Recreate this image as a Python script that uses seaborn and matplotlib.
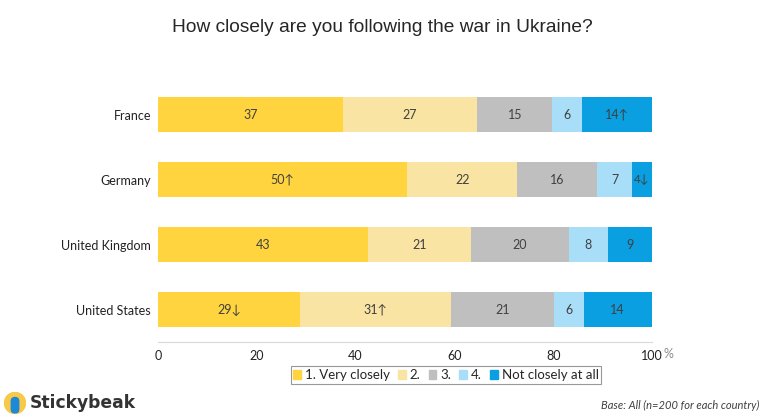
import numpy as np
import pandas as pd
import matplotlib
matplotlib.use("Agg")
import matplotlib.pyplot as plt
import matplotlib.patches as mpatches
import seaborn as sns

# values (rounded % shown in each segment)
countries = ["France", "Germany", "United Kingdom", "United States"]
very_closely = [37, 50, 43, 29]
level_2 = [27, 22, 21, 31]
level_3 = [15, 16, 20, 21]
level_4 = [6, 7, 8, 6]
not_closely = [14, 4, 9, 14]
# significance arrows next to some labels
arrows = [
    ["", "", "", "", "↑"],
    ["↑", "", "", "", "↓"],
    ["", "", "", "", ""],
    ["↓", "↑", "", "", ""],
]
series_names = ["1. Very closely", "2.", "3.", "4.", "Not closely at all"]
colors = ["#FFD43F", "#F9E4A3", "#BFBFBF", "#A8DEF8", "#0A9FE0"]
ticks = [0, 20, 40, 60, 80, 100]

FONT = ["Lato", "DejaVu Sans"]

sns.set_style("white")
plt.rcParams["font.family"] = FONT

df = pd.DataFrame({"country": countries, "s0": very_closely, "s1": level_2,
                   "s2": level_3, "s3": level_4, "s4": not_closely})
cols = ["s0", "s1", "s2", "s3", "s4"]
# bars span the full 100% (labels are rounded)
share = df[cols].div(df[cols].sum(axis=1), axis=0) * 100
cum = share.cumsum(axis=1)

fig = plt.figure(figsize=(7.64, 4.19), dpi=100)
ax = fig.add_axes([158 / 764, 1 - 342 / 419, 494 / 764, 260 / 419])

for i in reversed(range(len(cols))):
    sns.barplot(x=cum[cols[i]], y=df["country"], order=countries, orient="h",
                color=colors[i], saturation=1, width=0.55, ax=ax, edgecolor="none")

for r in range(len(countries)):
    left = 0
    for i, c in enumerate(cols):
        w = share.loc[r, c]
        ax.text(left + w / 2, r, f"{df.loc[r, c]}{arrows[r][i]}", ha="center",
                va="center", fontsize=9 if w > 5 else 8.5, color="#404040", family=FONT)
        left += w

ax.set_xlim(0, 100)
ax.set_ylim(3.5, -0.5)
ax.set_xticks(ticks)
ax.set_xticklabels([str(t) for t in ticks])
ax.tick_params(axis="x", length=0, pad=6, labelsize=9, labelcolor="#222222")
ax.tick_params(axis="y", length=0, pad=5, labelsize=9, labelcolor="#222222")
ax.set_xlabel("")
ax.set_ylabel("")
for s in ["top", "right", "left"]:
    ax.spines[s].set_visible(False)
ax.spines["bottom"].set_color("#D9D9D9")
ax.spines["bottom"].set_linewidth(0.8)
ax.spines["bottom"].set_bounds(0, 100)

fig.text(663 / 764, 1 - 354 / 419, "%", fontsize=9, color="#8C8C8C",
         va="center", ha="left")

fig.text(0.5, 1 - 28 / 419, "How closely are you following the war in Ukraine?",
         ha="center", va="center", fontsize=13.8, family="Liberation Sans")

handles = [mpatches.Patch(color=c) for c in colors]
leg = fig.legend(handles, series_names, loc="center", bbox_to_anchor=(446 / 764, 1 - 375 / 419),
                 ncol=5, fontsize=9.5, frameon=True, fancybox=False, handlelength=0.6,
                 handleheight=0.6, handletextpad=0.3, columnspacing=0.6,
                 borderpad=0.2, borderaxespad=0)
leg.get_frame().set_edgecolor("#7F7F7F")
leg.get_frame().set_linewidth(0.8)

# logo
logo_ax = fig.add_axes([4 / 764, 1 - 414 / 419, 22 / 764, 22 / 419])
logo_ax.set_xlim(0, 1)
logo_ax.set_ylim(0, 1)
logo_ax.set_aspect("equal")
logo_ax.axis("off")
logo_ax.add_patch(mpatches.Circle((0.5, 0.5), 0.48, color="#F7C948"))
logo_ax.add_patch(mpatches.FancyBboxPatch((0.33, 0.05), 0.34, 0.7,
                                          boxstyle="round,pad=0.0,rounding_size=0.17",
                                          color="#1E88D8"))
fig.text(30 / 764, 1 - 403 / 419, "Stickybeak", fontsize=12.3, fontweight="bold",
         color="#333333", va="center", ha="left", family="DejaVu Sans")
fig.text(759 / 764, 1 - 405 / 419, "Base: All (n=200 for each country)", fontsize=8,
         style="italic", color="#404040", va="center", ha="right")

fig.savefig("out.png", dpi=100)
